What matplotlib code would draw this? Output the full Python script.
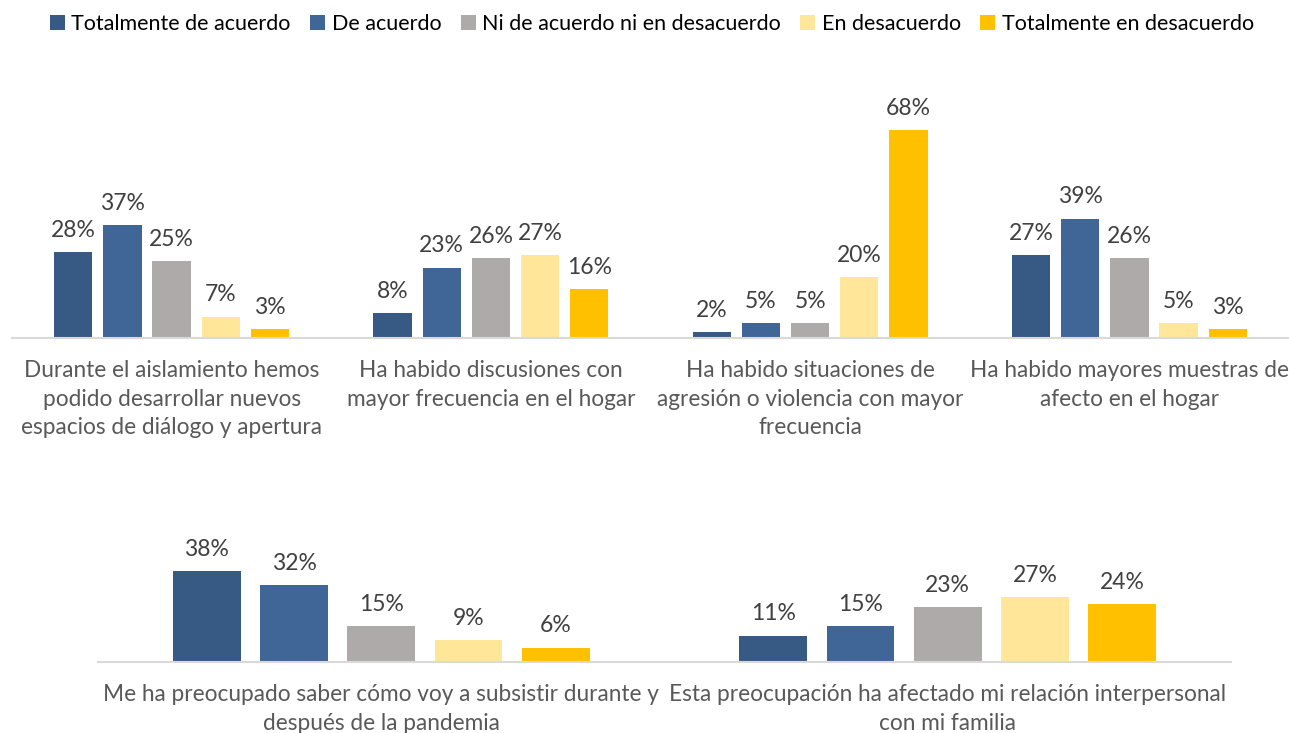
import matplotlib.pyplot as plt
import numpy as np

# Data
series = ['Totalmente de acuerdo', 'De acuerdo', 'Ni de acuerdo ni en desacuerdo',
          'En desacuerdo', 'Totalmente en desacuerdo']
colors = ['#375A84', '#3F6697', '#AEAAA9', '#FFE699', '#FFC000']

top_categories = ['Durante el aislamiento hemos\npodido desarrollar nuevos\nespacios de diálogo y apertura',
                  'Ha habido discusiones con\nmayor frecuencia en el hogar',
                  'Ha habido situaciones de\nagresión o violencia con mayor\nfrecuencia',
                  'Ha habido mayores muestras de\nafecto en el hogar']
top_values = [[28, 8, 2, 27],
              [37, 23, 5, 39],
              [25, 26, 5, 26],
              [7, 27, 20, 5],
              [3, 16, 68, 3]]

bottom_categories = ['Me ha preocupado saber cómo voy a subsistir durante y\ndespués de la pandemia',
                     'Esta preocupación ha afectado mi relación interpersonal\ncon mi familia']
bottom_values = [[38, 11],
                 [32, 15],
                 [15, 23],
                 [9, 27],
                 [6, 24]]

plt.rcParams['font.family'] = ['Lato', 'DejaVu Sans']

W, H = 1289, 733
fig = plt.figure(figsize=(W / 100, H / 100), dpi=100)


def draw(ax, categories, values, ymax):
    x = np.arange(len(categories))
    for i, (vals, color) in enumerate(zip(values, colors)):
        bars = ax.bar(x + (i - 2) * 0.154, vals, width=0.12, color=color, label=series[i])
        ax.bar_label(bars, labels=[f'{v}%' for v in vals], padding=8,
                     fontsize=16.5, color='#404040')
    ax.set_xlim(-0.5, len(categories) - 0.5)
    ax.set_ylim(0, ymax)
    ax.set_xticks(x)
    ax.set_xticklabels(categories, fontsize=16.3, color='#595959', linespacing=1.43)
    ax.tick_params(axis='x', length=0, pad=16)
    ax.set_yticks([])
    for s in ['top', 'right', 'left']:
        ax.spines[s].set_visible(False)
    ax.spines['bottom'].set_color('#D9D9D9')
    ax.spines['bottom'].set_linewidth(1.5)


ax1 = fig.add_axes([12 / W, 395 / H, 1277 / W, 245 / H])
draw(ax1, top_categories, top_values, 80)

ax2 = fig.add_axes([98 / W, 71 / H, 1133 / W, 108 / H])
draw(ax2, bottom_categories, bottom_values, 45)

handles, labels = ax1.get_legend_handles_labels()
fig.legend(handles, labels, loc='center', bbox_to_anchor=(652 / W, 1 - 24 / H), ncol=5,
           frameon=False, fontsize=15.5, handlelength=0.7, handleheight=0.7,
           handletextpad=0.3, columnspacing=0.9, labelcolor='#000000')

fig.savefig('out.png', dpi=100)
